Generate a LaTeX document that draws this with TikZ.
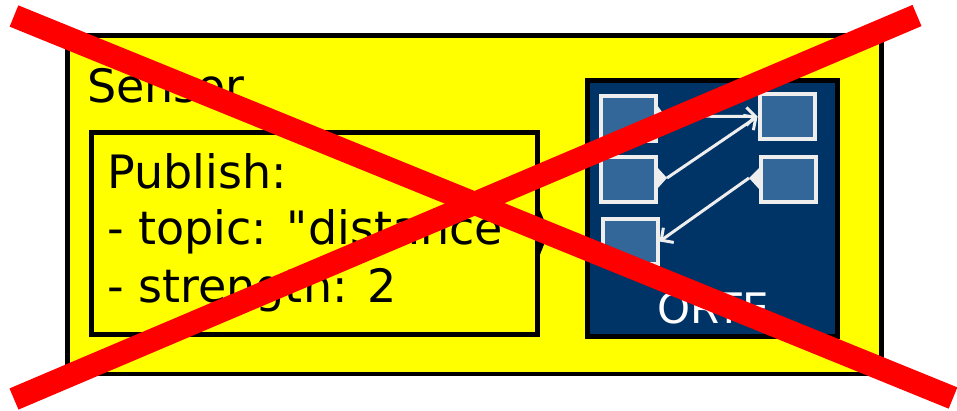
\documentclass[tikz,border=0pt]{standalone}
\usepackage{fontspec}
\setmainfont{DejaVu Sans}
\usetikzlibrary{arrows.meta}
\definecolor{ylw}{RGB}{255,255,0}
\definecolor{navy}{RGB}{0,51,102}
\definecolor{sqfill}{RGB}{51,102,153}
\definecolor{lgray}{RGB}{238,238,238}
\begin{document}
\begin{tikzpicture}[x=1pt,y=-1pt,
  frame/.style={draw=black,inner sep=0pt},
  sqbox/.style={draw=lgray,line width=4pt,fill=sqfill,minimum width=55pt,minimum height=45pt,inner sep=0pt},
  link/.style={draw=lgray,line width=3pt,-{Straight Barb[length=9pt,width=18pt,line width=3pt]}},
  txt/.style={anchor=base west,inner sep=0pt,font=\fontsize{46}{55}\selectfont},
  cross/.style={draw=red,line width=23pt}]
\useasboundingbox (0,0) rectangle (957,410);
% outer component
\node[frame,fill=ylw,line width=4.5pt,minimum width=814pt,minimum height=338.5pt] (sensor) at (474.5,204.75) {};
\node[txt] (sensorlbl) at (87,102) {Sensor};
% publish box
\node[frame,line width=5pt,minimum width=446pt,minimum height=202pt] (pub) at (314.5,233.5) {};
\node[txt] (pub1) at (107,188) {Publish:};
\node[txt] (pub2) at (107,244) {- topic: \textquotedbl distance\textquotedbl};
\node[txt] (pub3) at (107,302) {- strength: 2};
\fill[black] (539,208) -- (549,232) -- (539,257) -- cycle;
% ORTE box
\node[frame,fill=navy,line width=5pt,minimum width=250pt,minimum height=255.5pt] (orte) at (712,208.25) {};
\node[anchor=base,inner sep=0pt,text=white,font=\fontsize{42}{50}\selectfont] (ortelbl) at (713,323) {ORTE};
% squares
\node[sqbox] (s1) at (628.5,118.5) {};
\node[sqbox] (s2) at (628.5,179.5) {};
\node[sqbox] (s3) at (630,241.5) {};
\node[sqbox] (r1) at (787,116.5) {};
\node[sqbox] (r2) at (788,179.5) {};
% ports
\fill[lgray] (657,105) -- (665,116) -- (657,127) -- cycle;
\fill[lgray] (657,167) -- (667,178) -- (657,189) -- cycle;
\fill[lgray] (759,168) -- (749,178) -- (759,189) -- cycle;
\coordinate (p1) at (665,116);
\coordinate (p2) at (667,178);
\coordinate (p3) at (749,178);
% links
\draw[link] (p1) -- (r1.west);
\draw[link] (p2) -- (r1.west);
\draw[link] (p3) -- (s3.east);
% cross
\coordinate (c1a) at (14,16);
\coordinate (c1b) at (953,398);
\coordinate (c2a) at (917,15.5);
\coordinate (c2b) at (14,399);
\draw[cross] (c1a) -- (c1b);
\draw[cross] (c2a) -- (c2b);
\end{tikzpicture}
\end{document}
